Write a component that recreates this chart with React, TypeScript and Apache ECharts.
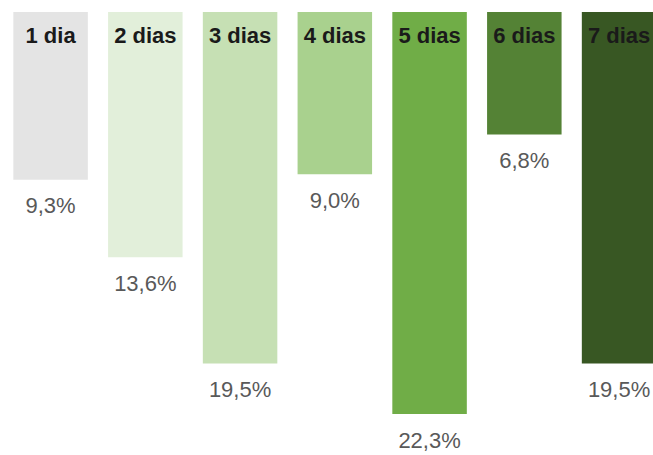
import React, { useEffect, useRef } from "react";
import * as echarts from "echarts";

const categories = ["1 dia", "2 dias", "3 dias", "4 dias", "5 dias", "6 dias", "7 dias"];
const values = [9.3, 13.6, 19.5, 9.0, 22.3, 6.8, 19.5];
const colors = ["#e4e4e4", "#e2efda", "#c6e0b4", "#a9d18e", "#70ad47", "#548235", "#385723"];

export default function App() {
  const ref = useRef<HTMLDivElement>(null);
  useEffect(() => {
    if (!ref.current) return;
    const chart = echarts.init(ref.current, undefined, { renderer: "svg" });
    chart.setOption({
      animation: false,
      backgroundColor: "#ffffff",
      grid: { left: 3.2, top: 12, width: 663.25, height: 450.75, outerBoundsMode: "none", containLabel: false },
      xAxis: {
        type: "category",
        data: categories,
        show: false,
      },
      yAxis: { type: "value", inverse: true, min: 0, max: 25, show: false },
      series: [
        {
          type: "bar",
          barWidth: 74.5,
          barGap: "-100%",
          data: values.map((v, i) => ({ value: v, itemStyle: { color: colors[i] } })),
          label: {
            show: true,
            position: "bottom",
            distance: 15,
            fontFamily: "Liberation Sans, Arial, sans-serif",
            fontSize: 22,
            color: "#595959",
            formatter: (p: any) => p.value.toFixed(1).replace(".", ",") + "%",
          },
        },
        {
          type: "bar",
          barWidth: 74.5,
          barGap: "-100%",
          data: values,
          itemStyle: { color: "rgba(0,0,0,0)" },
          label: {
            show: true,
            position: "insideTop",
            distance: 12,
            fontFamily: "Liberation Sans, Arial, sans-serif",
            fontWeight: "bold",
            fontSize: 22,
            color: "#1a1a1a",
            formatter: (p: any) => categories[p.dataIndex],
          },
        },
      ],
    });
    return () => chart.dispose();
  }, []);
  return (
    <div
      ref={ref}
      style={{ position: "fixed", left: 0, top: 0, width: 653, height: 455, background: "#fff" }}
    />
  );
}
